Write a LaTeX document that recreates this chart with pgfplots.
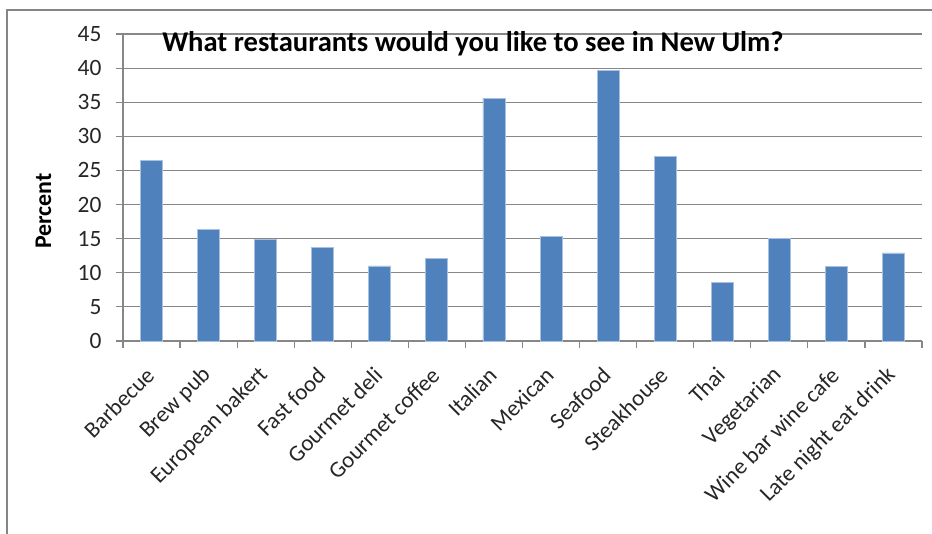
\documentclass[border=0pt]{standalone}
\usepackage{pgfplots}
\pgfplotsset{compat=1.18}
\usepackage{fontspec}
\setmainfont{Carlito}
\definecolor{barblue}{HTML}{4F81BD}
\definecolor{baredge}{HTML}{A9C1E0}
\definecolor{gridgray}{HTML}{878787}
\definecolor{framegray}{HTML}{858585}
\begin{document}
\begin{tikzpicture}[x=1bp,y=1bp]
\useasboundingbox (-123,-193) rectangle (809,341);
\draw[framegray, line width=2bp] (-116,-260) -- (-116,331) -- (900,331);
\begin{axis}[
  at={(0,0)}, anchor=south west,
  scale only axis, width=799bp, height=307bp,
  ymin=0, ymax=45, ytick={0,5,...,45},
  xmin=-0.5, xmax=13.5,
  xtick={0,...,13},
  xticklabels={Barbecue, Brew pub, European bakert, Fast food, Gourmet deli, Gourmet coffee, Italian, Mexican, Seafood, Steakhouse, Thai, Vegetarian, Wine bar wine cafe, Late night eat drink},
  minor xtick={-0.5,0.5,...,13.5},
  every major x tick/.append style={draw=none},
  every minor x tick/.append style={gridgray, line width=1.2bp},
  every major y tick/.append style={gridgray, line width=1.2bp},
  major tick length=7bp, minor tick length=7bp,
  tick align=outside,
  axis x line*=bottom, axis y line*=left,
  axis line style={gridgray, line width=1.2bp, -},
  ymajorgrids, grid style={gridgray, line width=1.2bp},
  tick label style={text=black!85},
  /pgf/number format/assume math mode=true,
  yticklabel style={xshift=-11bp, font=\fontsize{23.5}{25}\selectfont},
  xticklabel style={xshift=1bp, yshift=-21bp, rotate=45, anchor=east, font=\fontsize{23}{25}\selectfont},
  ylabel={Percent},
  ylabel style={at={(axis description cs:-0.0995,0.4235)}, anchor=center, font=\fontsize{24}{26}\selectfont\bfseries},
  title={What restaurants would you like to see in New Ulm?},
  title style={at={(axis description cs:0.438,0.922)}, anchor=base, font=\fontsize{28.7}{30}\selectfont\bfseries},
  ybar, bar width=22bp,
  clip=false,
]
\addplot[fill=barblue, draw=baredge, line width=0.8bp] coordinates {
  (0,26.4) (1,16.4) (2,14.95) (3,13.7) (4,11.0) (5,12.1) (6,35.6)
  (7,15.3) (8,39.65) (9,27.0) (10,8.6) (11,15.0) (12,10.9) (13,12.9)
};
\end{axis}
\end{tikzpicture}
\end{document}
